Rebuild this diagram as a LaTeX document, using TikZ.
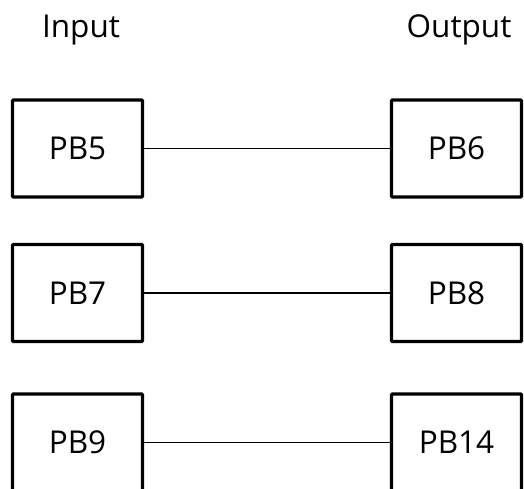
\documentclass[tikz,border=0pt]{standalone}
\usepackage{fontspec}
\setmainfont{Open Sans}
\begin{document}
\begin{tikzpicture}[x=1pt,y=-1pt]
			\tikzset{pin/.style={draw,line width=3.4pt,rounded corners=1pt,minimum width=130pt,minimum height=97pt,inner sep=0pt,font=\fontsize{31.5}{36}\selectfont}}
			\tikzset{wire/.style={line width=1.1pt}}
			\useasboundingbox (0,0) rectangle (524,488);
			\clip (0,0) rectangle (524,488);

			\node[font=\fontsize{31.5}{36}\selectfont] (in) at (81,30) {Input};
			\node[font=\fontsize{31.5}{36}\selectfont] (out) at (459,30) {Output};

			\node[pin] (pb5) at (77.5,148.5) {PB5};
			\node[pin] (pb6) at (456.5,148.5) {PB6};
			\node[pin] (pb7) at (77.5,293) {PB7};
			\node[pin] (pb8) at (456.5,293) {PB8};
			\node[pin] (pb9) at (77.5,442.5) {PB9};
			\node[pin] (pb14) at (456.5,442.5) {PB14};

			\draw[wire] (pb5.east) -- (pb6.west);
			\draw[wire] (pb7.east) -- (pb8.west);
			\draw[wire] (pb9.east) -- (pb14.west);
		\end{tikzpicture}
\end{document}
